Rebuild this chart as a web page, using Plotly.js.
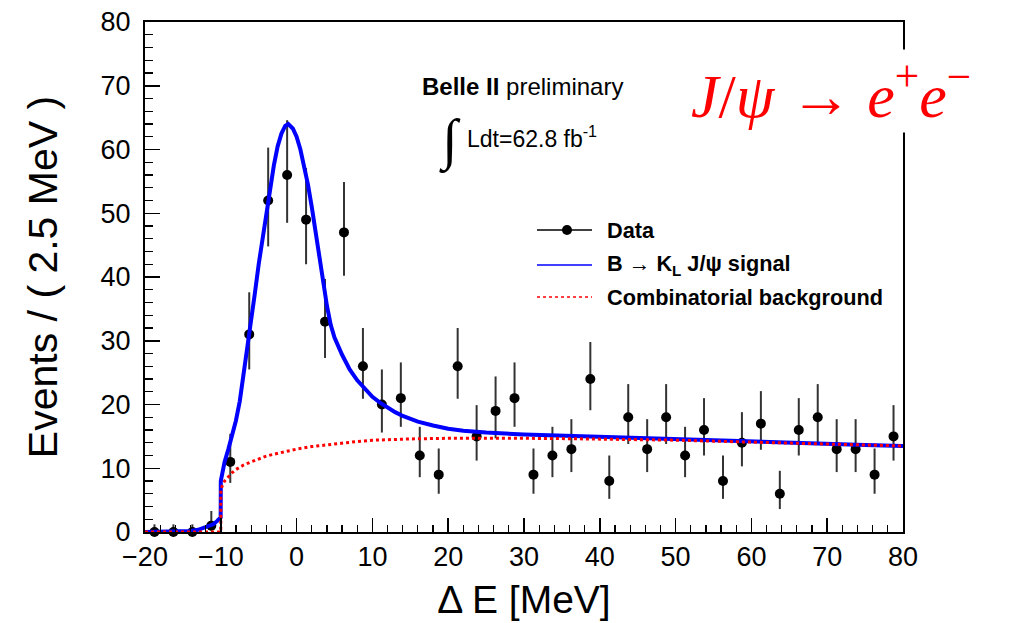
<!DOCTYPE html>
<html>
<head>
<meta charset="utf-8">
<script src="https://cdn.plot.ly/plotly-3.0.1.min.js"></script>
<style>html,body{margin:0;padding:0;background:#fff;}#chart{width:1012px;height:623px;}</style>
</head>
<body>
<div id="chart"></div>
<script>
// Data: bin centres (2.5 MeV bins) and event counts
const binCenters = [-18.75,-16.25,-13.75,-11.25,-8.75,-6.25,-3.75,-1.25,1.25,3.75,6.25,8.75,11.25,13.75,16.25,18.75,21.25,23.75,26.25,28.75,31.25,33.75,36.25,38.75,41.25,43.75,46.25,48.75,51.25,53.75,56.25,58.75,61.25,63.75,66.25,68.75,71.25,73.75,76.25,78.75];
const events = [0,0,0,1,11,31,52,56,49,33,47,26,20,21,12,9,26,15,19,21,9,12,13,24,8,18,13,18,12,16,8,14,17,6,16,18,13,13,9,15];
const errUp = [1.2,1.2,1.2,2.3,4.4,6.6,8.3,8.6,8.1,6.7,7.9,6.0,5.5,5.6,4.5,4.1,6.0,4.9,5.4,5.6,4.1,4.5,4.7,5.8,4.0,5.2,4.7,5.2,4.5,5.0,4.0,4.8,5.1,3.6,5.0,5.2,4.7,4.7,4.1,4.9];
const errDown = [0,0,0,0.8,3.3,5.5,7.2,7.5,7.0,5.7,6.8,5.1,4.4,4.5,3.4,3.0,5.1,3.8,4.3,4.5,3.0,3.4,3.6,4.9,2.8,4.2,3.6,4.2,3.4,4.0,2.8,3.7,4.1,2.4,4.0,4.2,3.6,3.6,3.0,3.8];

// Fit curve: signal + background (total)
const sigX = [-20,-16,-14,-13,-12,-11,-10.5,-10.02,-10,-9.5,-9,-8.5,-8,-7.5,-7,-6.5,-6,-5.5,-5,-4.5,-4,-3.5,-3,-2.5,-2,-1.5,-1.1,-0.5,0,0.5,1,1.5,2,2.5,3,3.5,4,4.5,5,6,7,8,9,10,11,12,13,14,16,18,20,22,25,30,35,40,45,50,55,60,65,70,75,80];
const sigY = [0,0.02,0.15,0.35,0.7,1.2,1.7,2.3,8,11,13,15,17.5,20.5,24.5,28.8,33,37.5,42,46,50,54,57.5,60.5,62.5,63.7,64,63.3,62,60,57.5,54.5,51,47,43,39,35.5,32.5,30.5,27.8,25.5,23.8,22.4,21.2,20.3,19.5,18.8,18.2,17.3,16.7,16.2,15.9,15.6,15.3,15.1,14.9,14.75,14.55,14.35,14.2,14.0,13.8,13.65,13.5];

// Combinatorial background curve
const bkgX = [-20,-10.001,-10,-9.8,-9.5,-9,-8.5,-8,-7,-6,-5,-4,-3,-2,-1,0,2,4,6,8,10,12,15,20,25,30,35,40,45,50,55,60,65,70,75,80];
const bkgY = [0,0,6.5,7.3,8.0,8.7,9.3,9.8,10.5,11.0,11.5,11.9,12.2,12.5,12.8,13.0,13.4,13.7,14.0,14.2,14.4,14.5,14.6,14.7,14.75,14.7,14.65,14.6,14.5,14.4,14.25,14.1,13.95,13.8,13.65,13.5];

const xTicks = [-20,-10,0,10,20,30,40,50,60,70,80];
const yTicks = [0,10,20,30,40,50,60,70,80];

const legendLabels = ["<b>Data</b>", "<b>B \u2192 K<sub>L</sub> J/\u03c8 signal</b>", "<b>Combinatorial background</b>"];

const SANS = "Liberation Sans, Arial, Helvetica, sans-serif";

const traces = [
  {
    x: binCenters, y: events, type: 'scatter', mode: 'markers', name: 'Data',
    marker: {color: 'black', size: 10},
    error_y: {type: 'data', symmetric: false, array: errUp, arrayminus: errDown, color: '#333333', thickness: 2, width: 0},
    cliponaxis: false, showlegend: false, hoverinfo: 'x+y'
  },
  {
    x: sigX, y: sigY, type: 'scatter', mode: 'lines', name: 'signal',
    line: {color: '#0000ff', width: 4}, cliponaxis: false, showlegend: false
  },
  {
    x: bkgX, y: bkgY, type: 'scatter', mode: 'lines', name: 'background',
    line: {color: '#ff0000', width: 3, dash: 'dot'}, cliponaxis: false, showlegend: false
  }
];

// plot area in pixels: left 145, right 903, top 22, bottom 532
const L = 145, R = 903, T = 22, B = 532;
function px(xp){ return (xp - L) / (R - L); }
function py(yp){ return (B - yp) / (B - T); }

const legRows = [230, 265, 297];
const shapes = [
  {type: 'line', xref: 'paper', yref: 'paper', x0: px(537), x1: px(592), y0: py(legRows[0]), y1: py(legRows[0]), line: {color: 'black', width: 1.5}},
  {type: 'circle', xref: 'paper', yref: 'paper', x0: px(562), x1: px(572), y0: py(legRows[0]+5), y1: py(legRows[0]-5), fillcolor: 'black', line: {color: 'black', width: 0}},
  {type: 'line', xref: 'paper', yref: 'paper', x0: px(537), x1: px(592), y0: py(legRows[1]), y1: py(legRows[1]), line: {color: '#0000ff', width: 1.5}},
  {type: 'line', xref: 'paper', yref: 'paper', x0: px(537), x1: px(592), y0: py(legRows[2]), y1: py(legRows[2]), line: {color: '#ff0000', width: 1.5, dash: 'dot'}}
];

const annotations = [];
legendLabels.forEach(function(t, i){
  annotations.push({xref: 'paper', yref: 'paper', x: px(605), y: py(legRows[i]), xanchor: 'left', yanchor: 'middle',
    text: t, showarrow: false, font: {family: SANS, size: 21.7, color: 'black'}});
});
annotations.push({xref: 'paper', yref: 'paper', x: px(522), y: py(86), xanchor: 'center', yanchor: 'middle',
  text: "<b>Belle II</b> preliminary", showarrow: false, font: {family: SANS, size: 24, color: 'black'}});
annotations.push({xref: 'paper', yref: 'paper', x: px(450), y: py(141), xanchor: 'center', yanchor: 'middle',
  text: "\u222b", showarrow: false, font: {family: "Liberation Serif, serif", size: 56, color: 'black'}});
annotations.push({xref: 'paper', yref: 'paper', x: px(465), y: py(137), xanchor: 'left', yanchor: 'middle',
  text: "Ldt=62.8 fb<sup>-1</sup>", showarrow: false, font: {family: SANS, size: 23, color: 'black'}});
annotations.push({xref: 'paper', yref: 'paper', x: px(831), y: py(91), xanchor: 'center', yanchor: 'middle',
  text: "<i>J</i>/<i>\u03c8</i>\u2005\u2192\u2005<i>e</i><sup>+</sup><i>e</i><sup>\u2212</sup>", showarrow: false,
  bgcolor: 'white', borderpad: 2,
  font: {family: "Liberation Serif, DejaVu Serif, serif", size: 62, color: '#ff0000'}});

const layout = {
  width: 1012, height: 623,
  margin: {l: L, r: 1012 - R, t: T, b: 623 - B, pad: 0},
  paper_bgcolor: 'white', plot_bgcolor: 'white',
  font: {family: SANS, color: 'black'},
  showlegend: false,
  xaxis: {
    range: [-20, 80], tickvals: xTicks, ticktext: xTicks.map(function(v){return v < 0 ? '\u2212' + Math.abs(v) : String(v);}),
    ticks: 'inside', ticklen: 14, tickwidth: 1.5, tickcolor: 'black',
    minor: {dtick: 2, tick0: 0, ticks: 'inside', ticklen: 7, tickwidth: 1.2, tickcolor: 'black', showgrid: false},
    showline: true, linewidth: 2, linecolor: 'black', mirror: true,
    showgrid: false, zeroline: false,
    tickfont: {family: SANS, size: 27, color: 'black'},
    title: {text: "\u0394 E [MeV]", font: {family: SANS, size: 39, color: 'black'}, standoff: 14},
    automargin: false
  },
  yaxis: {
    range: [0, 80], tickvals: yTicks,
    ticks: 'inside', ticklen: 15, tickwidth: 1.5, tickcolor: 'black',
    minor: {dtick: 2, tick0: 0, ticks: 'inside', ticklen: 8, tickwidth: 1.2, tickcolor: 'black', showgrid: false},
    showline: true, linewidth: 2, linecolor: 'black', mirror: true,
    showgrid: false, zeroline: false,
    ticklabelstandoff: 7,
    tickfont: {family: SANS, size: 27, color: 'black'},
    title: {text: "Events / ( 2.5 MeV )", font: {family: SANS, size: 41, color: 'black'}, standoff: 30},
    automargin: false
  },
  shapes: shapes,
  annotations: annotations
};

Plotly.newPlot('chart', traces, layout, {displayModeBar: false, staticPlot: true});
</script>
</body>
</html>
